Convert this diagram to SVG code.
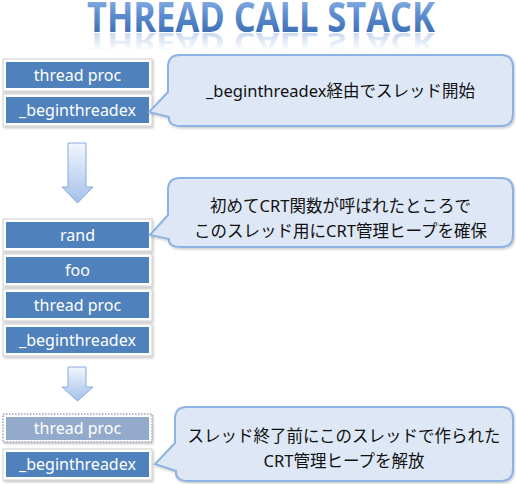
<svg xmlns="http://www.w3.org/2000/svg" width="516" height="484" viewBox="0 0 516 484">
<defs>
<linearGradient id="titleGrad" x1="0" y1="0" x2="0" y2="1">
<stop offset="0" stop-color="#a9c8ee"/>
<stop offset="0.45" stop-color="#5f8fd2"/>
<stop offset="1" stop-color="#2b5da3"/>
</linearGradient>
<linearGradient id="reflGrad" x1="0" y1="0" x2="0" y2="1">
<stop offset="0.25" stop-color="#7fa5db" stop-opacity="0"/>
<stop offset="1" stop-color="#7fa5db" stop-opacity="0.6"/>
</linearGradient>
<linearGradient id="arrowGrad" x1="0" y1="0" x2="0" y2="1">
<stop offset="0" stop-color="#f2f6fd"/>
<stop offset="1" stop-color="#a3c0ea"/>
</linearGradient>
<filter id="shadow" x="-10%" y="-20%" width="130%" height="160%">
<feDropShadow dx="1" dy="1.5" stdDeviation="1" flood-color="#000" flood-opacity="0.25"/>
</filter>
<filter id="cshadow" x="-5%" y="-10%" width="115%" height="130%">
<feDropShadow dx="1" dy="1.5" stdDeviation="1.2" flood-color="#000" flood-opacity="0.2"/>
</filter>
</defs>
<style>
.frame{fill:#ffffff;stroke:#cfcfcf;stroke-width:1;filter:url(#shadow)}
.blue{fill:#4f81bd}
.faded{fill:#93aacb}
.dotframe{fill:#ffffff;stroke:#9aa8ba;stroke-width:1.5;stroke-dasharray:1.5 1.5;filter:url(#shadow)}
.btxt{font-family:"Noto Sans","Liberation Sans",sans-serif;font-size:16px;fill:#ffffff;text-anchor:middle}
.callout{fill:#dde7f5;stroke:#8db3e2;stroke-width:2;filter:url(#cshadow)}
.ctxt{font-family:"Noto Sans","Noto Sans CJK JP",sans-serif;font-size:16.5px;fill:#111111;text-anchor:middle}
.arrow{fill:url(#arrowGrad);stroke:#86aade;stroke-width:1}
.title{font-family:"Open Sans","Liberation Sans",sans-serif;font-weight:bold;font-size:41px}
</style>

<g id="title">
<text class="title" x="87" y="32" textLength="348" lengthAdjust="spacingAndGlyphs" fill="url(#titleGrad)">THREAD CALL STACK</text>
<text class="title" x="87" y="0" transform="translate(0,33) scale(1,-0.6)" textLength="348" lengthAdjust="spacingAndGlyphs" fill="url(#reflGrad)">THREAD CALL STACK</text>
</g>

<g id="connectors">
<path class="arrow" d="M68,143 H86 V187 H93 L77.5,203 L62,187 H68 Z"/>
<path class="arrow" d="M68,367 H86 V387 H93 L77.5,401 L62,387 H68 Z"/>
</g>

<g id="stack1-threadproc">
<rect class="frame" x="3" y="59" width="149" height="32"/>
<rect class="blue" x="6" y="62" width="143" height="26"/>
<text class="btxt" x="77.5" y="81">thread proc</text>
</g>
<g id="stack1-beginthreadex">
<rect class="frame" x="3" y="94" width="149" height="32"/>
<rect class="blue" x="6" y="97" width="143" height="26"/>
<text class="btxt" x="77.5" y="116">_beginthreadex</text>
</g>

<g id="callout1">
<path class="callout" d="M180,55 H501 Q513,55 513,67 V114 Q513,126 501,126 H181 Q168,126 169,117 L149,112 L168,92 V67 Q168,55 180,55 Z"/>
<text class="ctxt" x="340.5" y="97">_beginthreadex経由でスレッド開始</text>
</g>

<g id="stack2-rand">
<rect class="frame" x="3" y="219" width="149" height="32"/>
<rect class="blue" x="6" y="222" width="143" height="26"/>
<text class="btxt" x="77.5" y="241">rand</text>
</g>
<g id="stack2-foo">
<rect class="frame" x="3" y="254" width="149" height="32"/>
<rect class="blue" x="6" y="257" width="143" height="26"/>
<text class="btxt" x="77.5" y="276">foo</text>
</g>
<g id="stack2-threadproc">
<rect class="frame" x="3" y="289" width="149" height="32"/>
<rect class="blue" x="6" y="292" width="143" height="26"/>
<text class="btxt" x="77.5" y="311">thread proc</text>
</g>
<g id="stack2-beginthreadex">
<rect class="frame" x="3" y="324" width="149" height="32"/>
<rect class="blue" x="6" y="327" width="143" height="26"/>
<text class="btxt" x="77.5" y="346">_beginthreadex</text>
</g>

<g id="callout2">
<path class="callout" d="M180,178 H501 Q513,178 513,190 V235 Q513,247 501,247 H181 Q168,247 169,239 L150,235 L168,215 V190 Q168,178 180,178 Z"/>
<text class="ctxt" x="340.5" y="212">初めてCRT関数が呼ばれたところで</text>
<text class="ctxt" x="340.5" y="237">このスレッド用にCRT管理ヒープを確保</text>
</g>

<g id="stack3-threadproc">
<rect class="dotframe" x="3" y="414" width="149" height="28"/>
<rect class="faded" x="6" y="417" width="143" height="23"/>
<text class="btxt" x="77.5" y="434">thread proc</text>
</g>
<g id="stack3-beginthreadex">
<rect class="frame" x="3" y="449" width="149" height="31"/>
<rect class="blue" x="6" y="452" width="143" height="25"/>
<text class="btxt" x="77.5" y="470">_beginthreadex</text>
</g>

<g id="callout3">
<path class="callout" d="M187,407 H501 Q513,407 513,419 V469 Q513,481 501,481 H188 Q175,481 176,471 L155,464 L175,443 V419 Q175,407 187,407 Z"/>
<text class="ctxt" x="344" y="442">スレッド終了前にこのスレッドで作られた</text>
<text class="ctxt" x="344" y="467">CRT管理ヒープを解放</text>
</g>
</svg>
